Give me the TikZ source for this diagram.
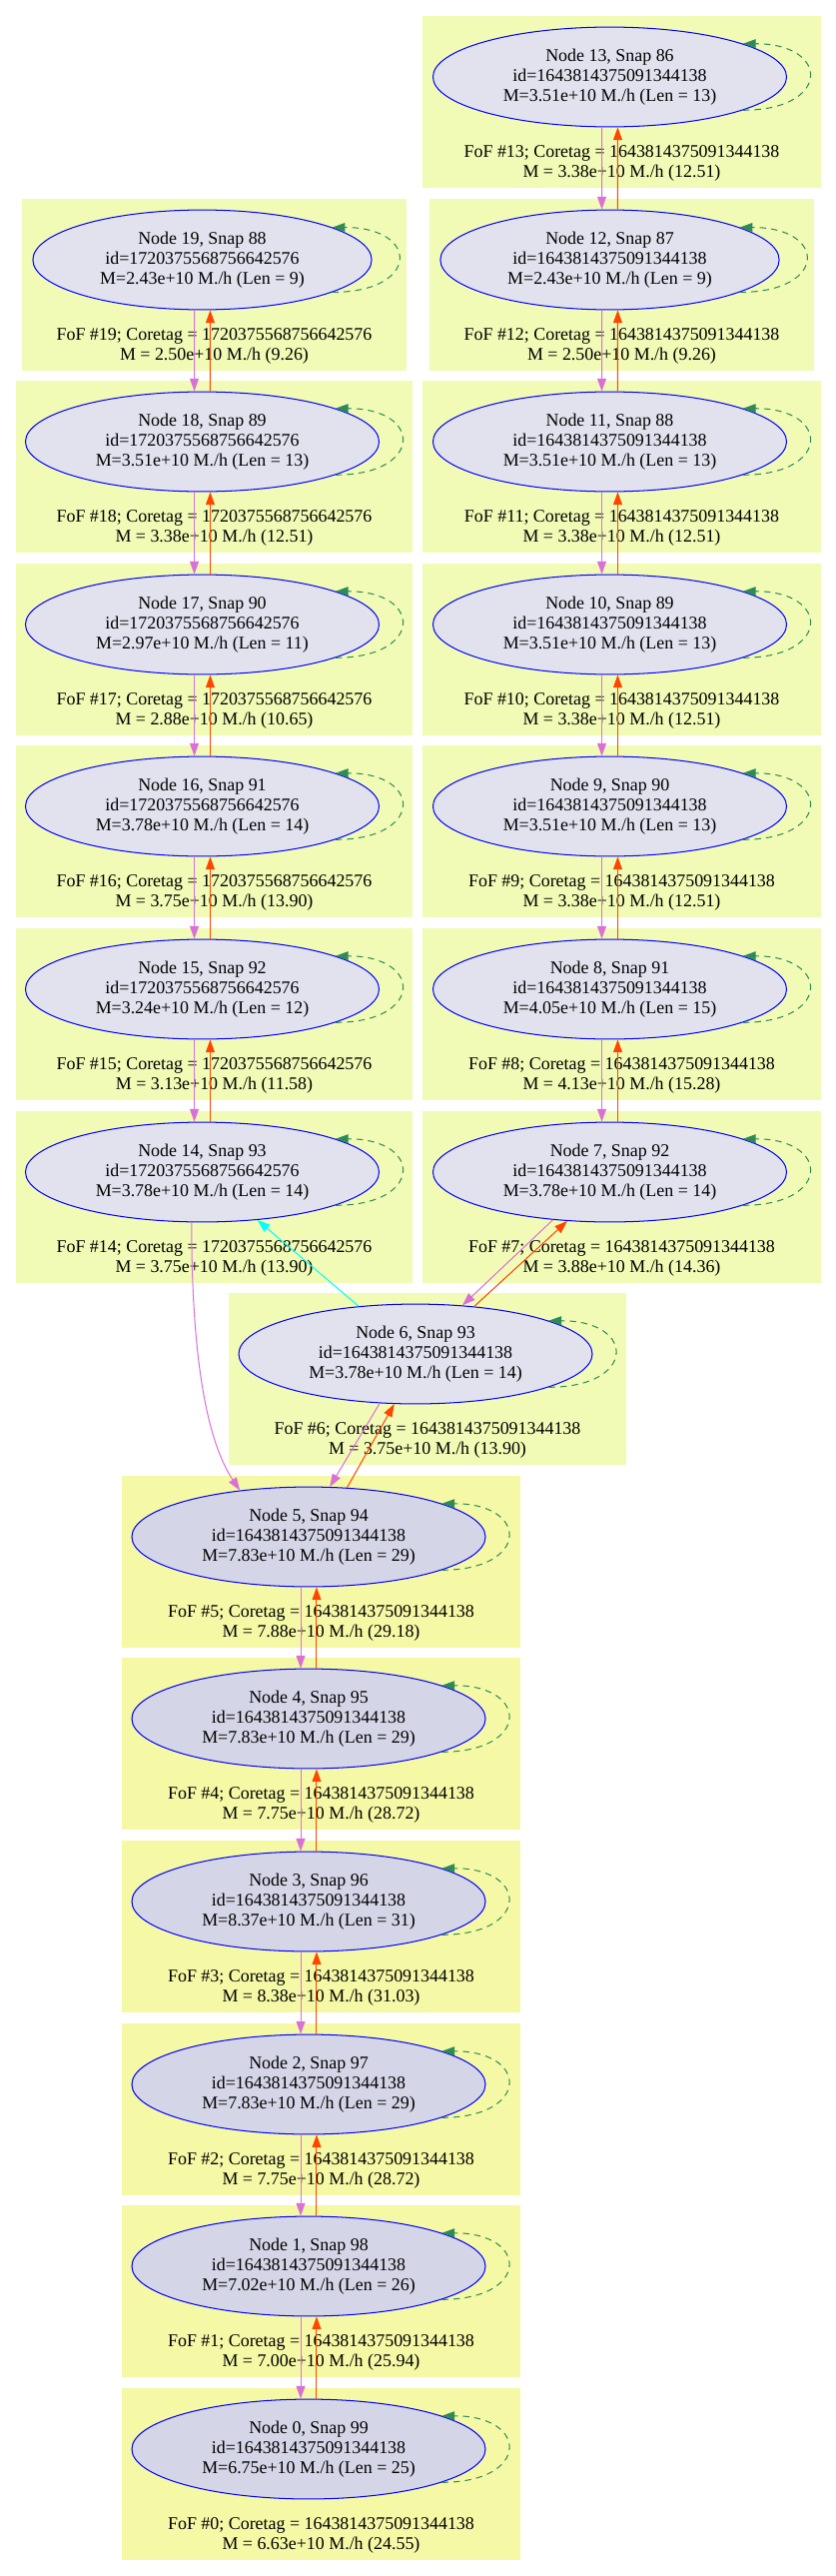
\documentclass[tikz,border=0pt]{standalone}
\usepackage{fontspec}
\setmainfont{Liberation Serif}
\usetikzlibrary{shapes.geometric,arrows.meta}
\definecolor{boxgreen}{HTML}{F1FBB5}
\definecolor{boxyellow}{HTML}{F5F9A5}
\definecolor{halolight}{HTML}{E2E2EF}
\definecolor{halodark}{HTML}{D5D5E8}
\definecolor{progcol}{HTML}{DA70D6}
\definecolor{desccol}{HTML}{FF4500}
\definecolor{crosscol}{HTML}{00FFFF}
\definecolor{loopcol}{HTML}{2E8B57}

\begin{document}
\begin{tikzpicture}[x=0.78125pt,y=-0.78125pt,
    halo/.style={ellipse,draw=blue,line width=0.8pt,fill=halolight,
      minimum width=276.6pt,minimum height=78pt,inner sep=0pt,align=center,
      font=\fontsize{14pt}{15.6pt}\selectfont},
    halosmall/.style={halo,minimum width=265pt},
    halobig/.style={halo,fill=halodark},
    foflabel/.style={align=center,inner sep=0pt,font=\fontsize{14pt}{15.6pt}\selectfont},
    progline/.style={draw=progcol,line width=0.8pt,-{Triangle[length=10pt,width=7pt]}},
    descline/.style={draw=desccol,line width=0.8pt,-{Triangle[length=10pt,width=7pt]}},
    crossline/.style={draw=crosscol,line width=0.8pt,-{Triangle[length=10pt,width=7pt]}},
    loopline/.style={draw=loopcol,line width=0.8pt,dash pattern=on 5pt off 4pt,
      -{Triangle[length=10pt,width=7pt]}}]
    \useasboundingbox (0,0) rectangle (837,2578);

    % FoF boxes
    \fill[boxgreen] (423,16) rectangle (822,188);
    \fill[boxgreen] (430,199) rectangle (815,371);
    \fill[boxgreen] (423,381) rectangle (822,553);
    \fill[boxgreen] (423,564) rectangle (822,736);
    \fill[boxgreen] (423,746) rectangle (822,918);
    \fill[boxgreen] (423,929) rectangle (822,1101);
    \fill[boxgreen] (423,1112) rectangle (822,1284);
    \fill[boxgreen] (22,199) rectangle (407,371);
    \fill[boxgreen] (16,381) rectangle (413,553);
    \fill[boxgreen] (16,564) rectangle (413,736);
    \fill[boxgreen] (16,746) rectangle (413,918);
    \fill[boxgreen] (16,929) rectangle (413,1101);
    \fill[boxgreen] (16,1112) rectangle (413,1284);
    \fill[boxgreen] (229,1294) rectangle (627,1466);
    \fill[boxyellow] (122,1477) rectangle (521,1649);
    \fill[boxyellow] (122,1659) rectangle (521,1831);
    \fill[boxyellow] (122,1842) rectangle (521,2014);
    \fill[boxyellow] (122,2025) rectangle (521,2197);
    \fill[boxyellow] (122,2207) rectangle (521,2379);
    \fill[boxyellow] (122,2390) rectangle (521,2562);

    % FoF labels
    \node[foflabel] (f13) at (622.5,163) {FoF \#13; Coretag = 1643814375091344138\\M = 3.38e+10 M./h (12.51)};
    \node[foflabel] (f12) at (622.5,346) {FoF \#12; Coretag = 1643814375091344138\\M = 2.50e+10 M./h (9.26)};
    \node[foflabel] (f11) at (622.5,528) {FoF \#11; Coretag = 1643814375091344138\\M = 3.38e+10 M./h (12.51)};
    \node[foflabel] (f10) at (622.5,711) {FoF \#10; Coretag = 1643814375091344138\\M = 3.38e+10 M./h (12.51)};
    \node[foflabel] (f9) at (622.5,893) {FoF \#9; Coretag = 1643814375091344138\\M = 3.38e+10 M./h (12.51)};
    \node[foflabel] (f8) at (622.5,1076) {FoF \#8; Coretag = 1643814375091344138\\M = 4.13e+10 M./h (15.28)};
    \node[foflabel] (f7) at (622.5,1259) {FoF \#7; Coretag = 1643814375091344138\\M = 3.88e+10 M./h (14.36)};
    \node[foflabel] (f19) at (214.5,346) {FoF \#19; Coretag = 1720375568756642576\\M = 2.50e+10 M./h (9.26)};
    \node[foflabel] (f18) at (214.5,528) {FoF \#18; Coretag = 1720375568756642576\\M = 3.38e+10 M./h (12.51)};
    \node[foflabel] (f17) at (214.5,711) {FoF \#17; Coretag = 1720375568756642576\\M = 2.88e+10 M./h (10.65)};
    \node[foflabel] (f16) at (214.5,893) {FoF \#16; Coretag = 1720375568756642576\\M = 3.75e+10 M./h (13.90)};
    \node[foflabel] (f15) at (214.5,1076) {FoF \#15; Coretag = 1720375568756642576\\M = 3.13e+10 M./h (11.58)};
    \node[foflabel] (f14) at (214.5,1259) {FoF \#14; Coretag = 1720375568756642576\\M = 3.75e+10 M./h (13.90)};
    \node[foflabel] (f6) at (428,1441) {FoF \#6; Coretag = 1643814375091344138\\M = 3.75e+10 M./h (13.90)};
    \node[foflabel] (f5) at (321.5,1624) {FoF \#5; Coretag = 1643814375091344138\\M = 7.88e+10 M./h (29.18)};
    \node[foflabel] (f4) at (321.5,1806) {FoF \#4; Coretag = 1643814375091344138\\M = 7.75e+10 M./h (28.72)};
    \node[foflabel] (f3) at (321.5,1989) {FoF \#3; Coretag = 1643814375091344138\\M = 8.38e+10 M./h (31.03)};
    \node[foflabel] (f2) at (321.5,2172) {FoF \#2; Coretag = 1643814375091344138\\M = 7.75e+10 M./h (28.72)};
    \node[foflabel] (f1) at (321.5,2354) {FoF \#1; Coretag = 1643814375091344138\\M = 7.00e+10 M./h (25.94)};
    \node[foflabel] (f0) at (321.5,2537) {FoF \#0; Coretag = 1643814375091344138\\M = 6.63e+10 M./h (24.55)};

    % halo nodes
    \node[halo] (n13) at (610.5,77) {Node 13, Snap 86\\id=1643814375091344138\\M=3.51e+10 M./h (Len = 13)};
    \node[halosmall] (n12) at (610.5,260) {Node 12, Snap 87\\id=1643814375091344138\\M=2.43e+10 M./h (Len = 9)};
    \node[halo] (n11) at (610.5,442) {Node 11, Snap 88\\id=1643814375091344138\\M=3.51e+10 M./h (Len = 13)};
    \node[halo] (n10) at (610.5,625) {Node 10, Snap 89\\id=1643814375091344138\\M=3.51e+10 M./h (Len = 13)};
    \node[halo] (n9) at (610.5,807) {Node 9, Snap 90\\id=1643814375091344138\\M=3.51e+10 M./h (Len = 13)};
    \node[halo] (n8) at (610.5,990) {Node 8, Snap 91\\id=1643814375091344138\\M=4.05e+10 M./h (Len = 15)};
    \node[halo] (n7) at (610.5,1173) {Node 7, Snap 92\\id=1643814375091344138\\M=3.78e+10 M./h (Len = 14)};
    \node[halosmall] (n19) at (202.5,260) {Node 19, Snap 88\\id=1720375568756642576\\M=2.43e+10 M./h (Len = 9)};
    \node[halo] (n18) at (202.5,442) {Node 18, Snap 89\\id=1720375568756642576\\M=3.51e+10 M./h (Len = 13)};
    \node[halo] (n17) at (202.5,625) {Node 17, Snap 90\\id=1720375568756642576\\M=2.97e+10 M./h (Len = 11)};
    \node[halo] (n16) at (202.5,807) {Node 16, Snap 91\\id=1720375568756642576\\M=3.78e+10 M./h (Len = 14)};
    \node[halo] (n15) at (202.5,990) {Node 15, Snap 92\\id=1720375568756642576\\M=3.24e+10 M./h (Len = 12)};
    \node[halo] (n14) at (202.5,1173) {Node 14, Snap 93\\id=1720375568756642576\\M=3.78e+10 M./h (Len = 14)};
    \node[halo] (n6) at (416,1355) {Node 6, Snap 93\\id=1643814375091344138\\M=3.78e+10 M./h (Len = 14)};
    \node[halobig] (n5) at (309,1538) {Node 5, Snap 94\\id=1643814375091344138\\M=7.83e+10 M./h (Len = 29)};
    \node[halobig] (n4) at (309,1720) {Node 4, Snap 95\\id=1643814375091344138\\M=7.83e+10 M./h (Len = 29)};
    \node[halobig] (n3) at (309,1903) {Node 3, Snap 96\\id=1643814375091344138\\M=8.37e+10 M./h (Len = 31)};
    \node[halobig] (n2) at (309,2086) {Node 2, Snap 97\\id=1643814375091344138\\M=7.83e+10 M./h (Len = 29)};
    \node[halobig] (n1) at (309,2268) {Node 1, Snap 98\\id=1643814375091344138\\M=7.02e+10 M./h (Len = 26)};
    \node[halobig] (n0) at (309,2451) {Node 0, Snap 99\\id=1643814375091344138\\M=6.75e+10 M./h (Len = 25)};

    % self loops
    \foreach \n in {n0,n1,n2,n3,n4,n5,n6,n7,n8,n9,n10,n11,n12,n13,n14,n15,n16,n17,n18,n19}
      \draw[loopline] (\n.-14) .. controls +(88,0) and +(88,0) .. (\n.14);

    % links along each branch
    \foreach \a/\b in {n13/n12,n12/n11,n11/n10,n10/n9,n9/n8,n8/n7,n19/n18,n18/n17,n17/n16,n16/n15,n15/n14,n5/n4,n4/n3,n3/n2,n2/n1,n1/n0}{
      \draw[progline] (\a.-99) -- (\b.99);
      \draw[descline] (\b.81) -- (\a.-81);
    }

    % merger links
    \draw[progline] (n7.-140) -- (n6.46);
    \draw[descline] (n6.39) -- (n7.-131);
    \draw[crossline] (n6.140) -- (n14.-41);
    \draw[progline] (n6.-126) -- (n5.67);
    \draw[descline] (n5.52) -- (n6.-113);
    \draw[progline] (n14.-102) .. controls +(0,100) and +(-40,-60) .. (n5.146);
  \end{tikzpicture}
\end{document}
